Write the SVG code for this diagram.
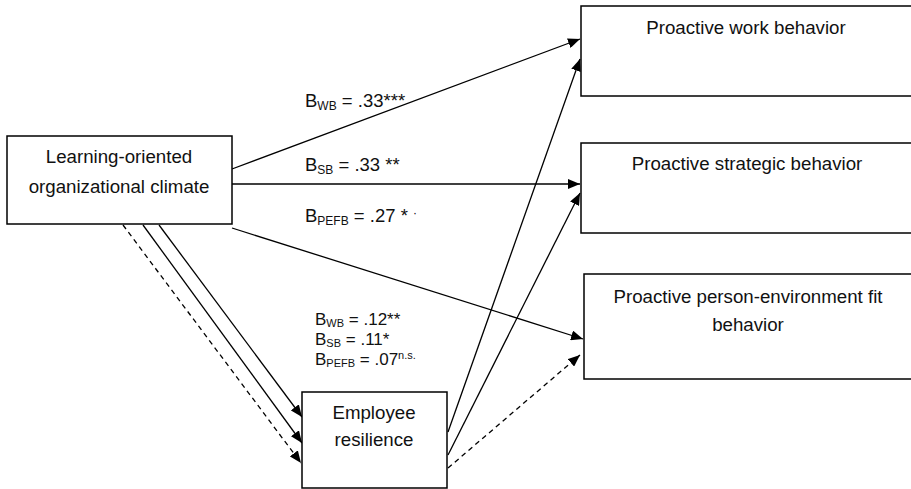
<svg xmlns="http://www.w3.org/2000/svg" width="911" height="489" viewBox="0 0 911 489">
<defs>
<style>
.box{fill:#fff;stroke:#000;stroke-width:1.5}
.t{font-family:"Liberation Sans",Arial,sans-serif;font-size:18.7px;fill:#111}
.l{font-family:"Liberation Sans",Arial,sans-serif;font-size:18.5px;fill:#111}
.m{font-family:"Liberation Sans",Arial,sans-serif;font-size:17px;fill:#111}
.c{text-anchor:middle}
.ln{stroke:#000;stroke-width:1.3;fill:none}
.d{stroke-dasharray:5,4}
.s{font-size:12px}
.u{font-size:11px}
</style>
<marker id="ah" viewBox="0 0 12 10" refX="12" refY="5" markerWidth="12" markerHeight="10" markerUnits="userSpaceOnUse" orient="auto">
<path d="M0,0 L12,5 L0,10 z" fill="#000"/>
</marker>
</defs>
<rect width="911" height="489" fill="#fff"/>
<g id="connectors">
<line class="ln" x1="232" y1="169" x2="580" y2="39" marker-end="url(#ah)"/>
<line class="ln" x1="232" y1="184" x2="580" y2="184" marker-end="url(#ah)"/>
<line class="ln" x1="232" y1="228" x2="583" y2="339" marker-end="url(#ah)"/>
<line class="ln" x1="159" y1="225" x2="302" y2="417" marker-end="url(#ah)"/>
<line class="ln" x1="143" y1="225" x2="302" y2="443" marker-end="url(#ah)"/>
<line class="ln d" x1="123" y1="225" x2="301" y2="463" marker-end="url(#ah)"/>
<line class="ln" x1="448" y1="432" x2="580" y2="59" marker-end="url(#ah)"/>
<line class="ln" x1="448" y1="455" x2="580" y2="193" marker-end="url(#ah)"/>
<line class="ln d" x1="448" y1="468" x2="580" y2="355" marker-end="url(#ah)"/>
</g>
<g id="labels">
<text class="l" x="305" y="107">B<tspan class="s" dy="3">WB</tspan><tspan dy="-3"> = .33***</tspan></text>
<text class="l" x="305" y="171">B<tspan class="s" dy="3">SB</tspan><tspan dy="-3"> = .33 **</tspan></text>
<text class="l" x="305" y="222">B<tspan class="s" dy="3">PEFB</tspan><tspan dy="-3"> = .27 * </tspan><tspan class="s" dy="-5">·</tspan></text>
<text class="m" x="315" y="325">B<tspan class="u" dy="2">WB</tspan><tspan dy="-2"> = .12**</tspan></text>
<text class="m" x="315" y="345">B<tspan class="u" dy="2">SB</tspan><tspan dy="-2"> = .11*</tspan></text>
<text class="m" x="315" y="365">B<tspan class="u" dy="2">PEFB</tspan><tspan dy="-2"> = .07</tspan><tspan class="u" dy="-6">n.s.</tspan></text>
</g>
<g id="climate">
<rect class="box" x="7" y="136" width="225" height="88"/>
<text class="t c" x="119" y="163">Learning-oriented</text>
<text class="t c" x="119" y="193">organizational climate</text>
</g>
<g id="work">
<rect class="box" x="581" y="6" width="340" height="90"/>
<text class="t c" x="746" y="34">Proactive work behavior</text>
</g>
<g id="strategic">
<rect class="box" x="581" y="143" width="340" height="90"/>
<text class="t c" x="747" y="170">Proactive strategic behavior</text>
</g>
<g id="pefit">
<rect class="box" x="584" y="274" width="340" height="105"/>
<text class="t c" x="748" y="303">Proactive person-environment fit</text>
<text class="t c" x="748" y="331">behavior</text>
</g>
<g id="resilience">
<rect class="box" x="302" y="392" width="145" height="96"/>
<text class="t c" x="374" y="419">Employee</text>
<text class="t c" x="374" y="446">resilience</text>
</g>
</svg>
